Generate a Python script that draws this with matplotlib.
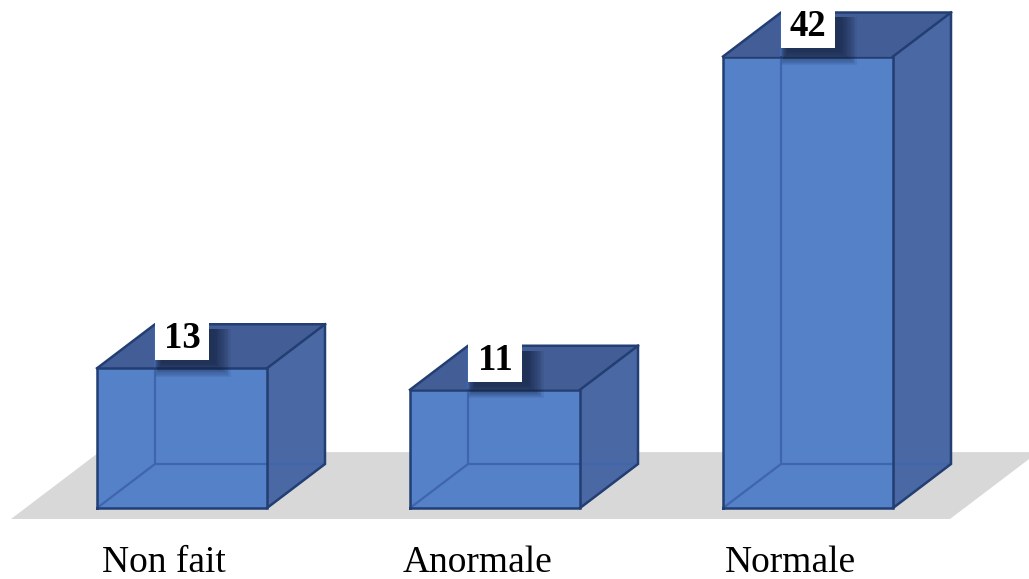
import matplotlib
matplotlib.use("Agg")
import matplotlib.pyplot as plt
from matplotlib.patches import Polygon, Rectangle

# data
categories = ["Non fait", "Anormale", "Normale"]
values = [13, 11, 42]

# 3D look: depth offset in data units, bar width in category units
DX = 0.1853
DY = 4.093
W = 0.543

FRONT = "#5581C9"
SIDE = "#4A68A3"
TOP = "#435E97"
EDGE = "#223E72"
HIDDEN = "#3F66AC"
FLOOR = "#D9D8D9"

fig = plt.figure(figsize=(10.29, 5.79), dpi=100)
ax = fig.add_axes([0, 0, 1, 1])
ax.set_xlim(-0.5815, 2.706)
ax.set_ylim(-6.605, 47.256)
ax.axis("off")


def proj(x, v, z):
    return (x + z * DX, v + z * DY)


# floor plane
z0, z1 = -0.25, 1.27
x0, x1 = -0.5, len(categories) - 0.5
floor = [proj(x0, 0, z0), proj(x1, 0, z0), proj(x1, 0, z1), proj(x0, 0, z1)]
ax.add_patch(Polygon(floor, closed=True, facecolor=FLOOR, edgecolor="none", zorder=1))

for i, (cat, v) in enumerate(zip(categories, values)):
    l, r = i - W / 2, i + W / 2
    # right side face
    side = [proj(r, 0, 0), proj(r, 0, 1), proj(r, v, 1), proj(r, v, 0)]
    ax.add_patch(Polygon(side, closed=True, facecolor=SIDE, edgecolor="none", zorder=2))
    # top face
    top = [proj(l, v, 0), proj(r, v, 0), proj(r, v, 1), proj(l, v, 1)]
    ax.add_patch(Polygon(top, closed=True, facecolor=TOP, edgecolor="none", zorder=2))
    # front face
    ax.add_patch(Rectangle((l, 0), W, v, facecolor=FRONT, edgecolor="none", zorder=3))

    # hidden back edges seen through the translucent box
    for a, b in [((l, 0, 0), (l, 0, 1)), ((l, 0, 1), (r, 0, 1)), ((l, 0, 1), (l, v, 1))]:
        pa, pb = proj(*a), proj(*b)
        ax.plot([pa[0], pb[0]], [pa[1], pb[1]], color=HIDDEN, lw=1.6, zorder=4,
                solid_capstyle="butt")

    # visible outline
    outline = [
        [(l, 0, 0), (r, 0, 0), (r, v, 0), (l, v, 0), (l, 0, 0)],
        [(r, 0, 0), (r, 0, 1), (r, v, 1), (l, v, 1), (l, v, 0)],
        [(r, v, 0), (r, v, 1)],
    ]
    for seg in outline:
        pts = [proj(*p) for p in seg]
        ax.plot([p[0] for p in pts], [p[1] for p in pts], color=EDGE, lw=1.8,
                zorder=5, solid_joinstyle="miter")

    # value label in a white box with a soft shadow falling down and right
    bw, bh = 0.1725, 4.1
    bx, by = i - bw / 2, v + 0.75
    stop = by + bh - 1.2
    for k in range(12):
        gx = k * 0.0045
        gy = k * 0.11
        ylo = by - 0.35 - gy
        ax.add_patch(Rectangle((bx + 0.02 - 0.4 * gx, ylo), bw + 1.4 * gx, stop - ylo,
                               facecolor="#0E1A33", edgecolor="none", alpha=0.07,
                               zorder=6))
    ax.add_patch(Rectangle((bx, by), bw, bh, facecolor="white", edgecolor="none", zorder=7))
    ax.text(i, by + 1.12, str(v), ha="center", va="baseline", fontsize=26.5,
            fontweight="bold", family="Liberation Serif", color="black", zorder=8)

    # category label
    ax.text(i - 0.057, -5.98, cat, ha="center", va="baseline", fontsize=27,
            family="Liberation Serif", color="black", zorder=8)

fig.savefig("out.png", dpi=100)
